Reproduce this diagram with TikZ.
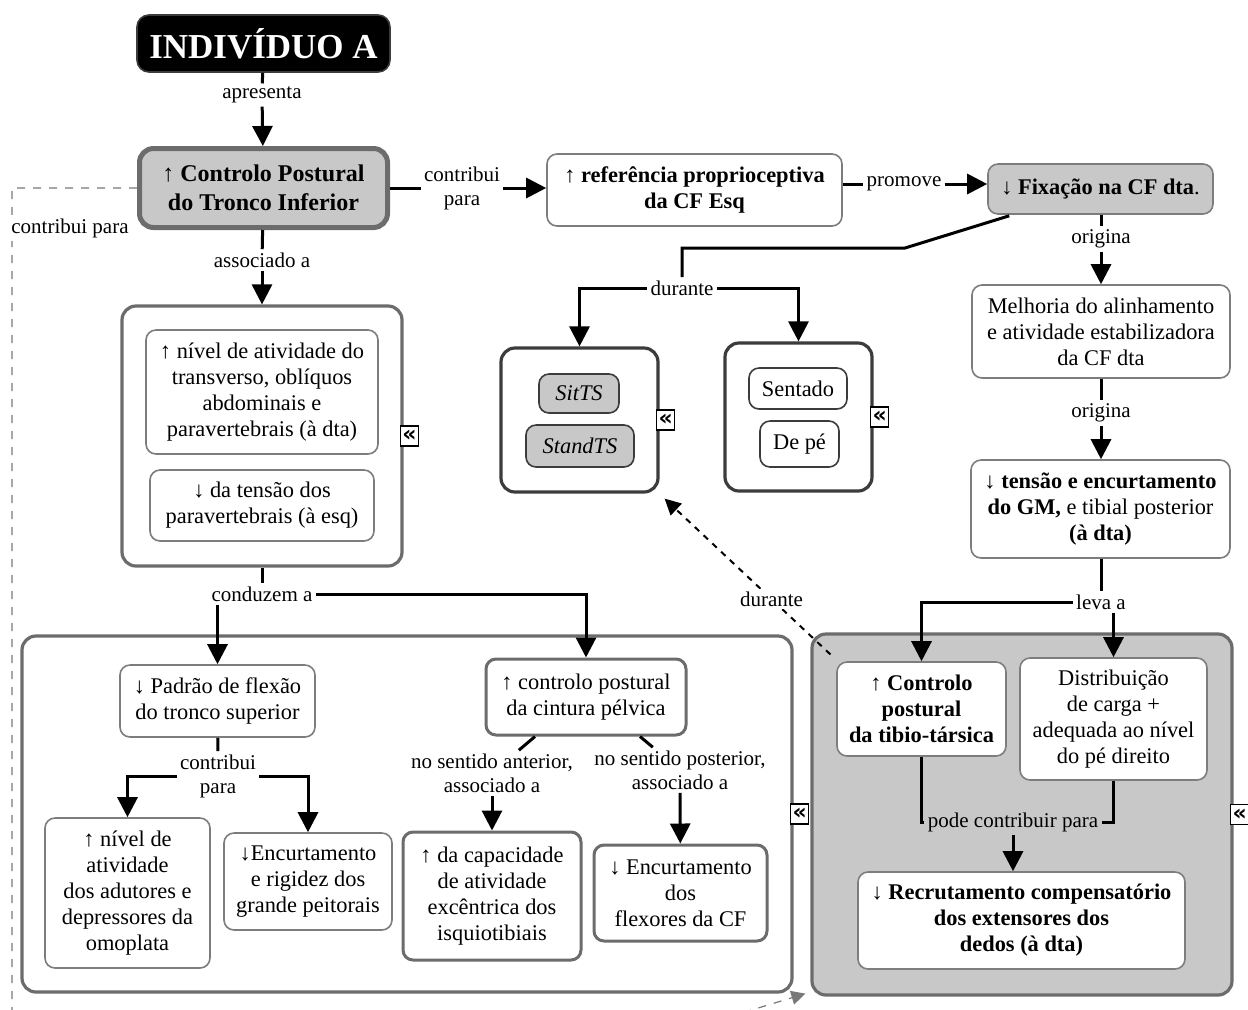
\documentclass[tikz,border=0pt]{standalone}
\usepackage{fontspec}
\setmainfont{Liberation Serif}
\newfontfamily\markfont{DejaVu Sans}
\usetikzlibrary{arrows.meta,calc}
\definecolor{boxgray}{RGB}{200,200,200}
\definecolor{edgegray}{RGB}{125,125,125}
\definecolor{framegray}{RGB}{108,108,108}
\definecolor{darkedge}{RGB}{60,60,60}
\definecolor{dashgray}{RGB}{120,120,120}
\tikzset{
  txt/.style={font=\fontsize{11.2}{13}\selectfont, align=center, inner sep=2pt},
  cbox/.style={txt, draw=edgegray, line width=0.8pt, rounded corners=5pt, fill=white},
  thickbox/.style={cbox, draw=framegray, line width=1.5pt},
  graybox/.style={cbox, fill=boxgray},
  container/.style={draw=framegray, line width=1.6pt, rounded corners=7pt, fill=white},
  darkcontainer/.style={draw=darkedge, line width=1.6pt, rounded corners=7pt, fill=white},
  lbl/.style={font=\fontsize{10.5}{12}\selectfont, align=center, fill=white, inner sep=1.5pt},
  conn/.style={line width=1.5pt},
  arr/.style={conn, -{Triangle[length=10pt,width=10pt]}},
  dasharr/.style={line width=1pt, dash pattern=on 3pt off 3pt, -{Triangle[length=8pt,width=8pt]}},
  graydash/.style={draw=dashgray, line width=0.6pt, dash pattern=on 4pt off 4pt, -{Triangle[length=7pt,width=7pt]}, dashgray},
  expander/.style={draw, fill=white, line width=0.6pt, inner sep=0pt, minimum width=9pt, minimum height=10pt, font=\markfont\bfseries\fontsize{11}{11}\selectfont},
}
\begin{document}
\begin{tikzpicture}[x=0.5pt, y=-0.5pt]
\fill[white] (0,0) rectangle (1248,1009);
\useasboundingbox (0,0) rectangle (1248,1009);

% containers
\node[container, fill=boxgray, minimum width=210pt, minimum height=180.5pt] (grayc) at (1022,814.5) {};
\node[container, minimum width=140pt, minimum height=130pt] (cont1) at (262,436) {};
\node[container, minimum width=385pt, minimum height=178pt] (bl) at (407,814) {};
\node[darkcontainer, minimum width=78.5pt, minimum height=72pt] (sitbox) at (579.5,420) {};
\node[darkcontainer, minimum width=73.5pt, minimum height=74pt] (sentbox) at (798.5,417) {};

% expand markers on the container edges
\node[expander] (mk1) at ($(cont1.east)+(6,0)$) {«};
\node[expander] (mk2) at ($(sitbox.east)+(6,0)$) {«};
\node[expander] (mk3) at ($(sentbox.east)+(6,0)$) {«};
\node[expander] (mk4) at ($(bl.east)+(6,0)$) {«};
\node[expander] (mk5) at ($(grayc.east)+(6,0)$) {«};

% top row
\node[cbox, fill=black, draw=darkedge, text=white, rounded corners=6pt,
      font=\bfseries\fontsize{17.5}{20}\selectfont,
      minimum width=126.5pt, minimum height=28.5pt] (ind) at (263.5,43.5) {INDIVÍDUO A};
\node[cbox, fill=boxgray, draw=framegray, line width=2.5pt, rounded corners=7pt,
      font=\bfseries\fontsize{12}{14.5}\selectfont,
      minimum width=124pt, minimum height=39.5pt] (ctp) at (263.5,188) {↑ Controlo Postural\\do Tronco Inferior};
\node[cbox, font=\bfseries\fontsize{11.2}{13}\selectfont,
      minimum width=147.5pt, minimum height=36pt] (ref) at (694.5,190) {↑ referência proprioceptiva\\da CF Esq};
\node[graybox, font=\bfseries\fontsize{11.2}{13}\selectfont,
      minimum width=112.5pt, minimum height=25pt] (fix) at (1100.5,189) {↓ Fixação na CF dta\textmd{.}};

% right column
\node[cbox, minimum width=129pt, minimum height=46.5pt] (mel) at (1101,331.5) {Melhoria do alinhamento\\e atividade estabilizadora\\da CF dta};
\node[cbox, minimum width=129.5pt, minimum height=49pt] (ten) at (1100.5,509) {\textbf{↓ tensão e encurtamento}\\\textbf{do GM,} e tibial posterior\\\textbf{(à dta)}};
\node[cbox, font=\bfseries\fontsize{11.2}{13}\selectfont,
      minimum width=84.5pt, minimum height=47pt] (ctltib) at (921.5,709) {↑ Controlo\\postural\\da tibio-társica};
\node[cbox, minimum width=93.5pt, minimum height=61pt] (dist) at (1113.5,719) {Distribuição\\de carga +\\adequada ao nível\\do pé direito};
\node[cbox, font=\bfseries\fontsize{11.2}{13}\selectfont,
      minimum width=163.5pt, minimum height=48.5pt] (recr) at (1021.5,920.5) {↓ Recrutamento compensatório\\dos extensores dos\\dedos (à dta)};

% left middle group
\node[cbox, minimum width=116pt, minimum height=62pt] (ativa) at (262,392) {↑ nível de atividade do\\transverso, oblíquos\\abdominais e\\paravertebrais (à dta)};
\node[cbox, minimum width=112pt, minimum height=35.5pt] (tensb) at (262,505.5) {↓ da tensão dos\\paravertebrais (à esq)};

% task groups
\node[graybox, draw=darkedge, font=\itshape\fontsize{11.2}{13}\selectfont,
      minimum width=40pt, minimum height=19.5pt] (sit) at (579,393.5) {SitTS};
\node[graybox, draw=darkedge, font=\itshape\fontsize{11.2}{13}\selectfont,
      minimum width=54pt, minimum height=21pt] (stand) at (580,446) {StandTS};
\node[cbox, draw=darkedge, minimum width=49pt, minimum height=20.5pt] (sentado) at (798,388.5) {Sentado};
\node[cbox, draw=darkedge, minimum width=39.5pt, minimum height=23pt] (depe) at (799.5,444) {De pé};

% bottom-left group
\node[cbox, minimum width=97.5pt, minimum height=36pt] (padrao) at (217.5,701) {↓ Padrão de flexão\\do tronco superior};
\node[thickbox, minimum width=100pt, minimum height=38pt] (cintura) at (586,697) {↑ controlo postural\\da cintura pélvica};
\node[cbox, minimum width=82.5pt, minimum height=75pt] (nivel2) at (127.5,893) {↑ nível de\\atividade\\dos adutores e\\depressores da\\omoplata};
\node[cbox, minimum width=84pt, minimum height=48.5pt] (encrig) at (308,881.5) {↓Encurtamento\\e rigidez dos\\grande peitorais};
\node[thickbox, minimum width=89pt, minimum height=64pt] (capac) at (492,896) {↑ da capacidade\\de atividade\\excêntrica dos\\isquiotibiais};
\node[thickbox, minimum width=86.5pt, minimum height=48pt] (encflex) at (680.5,893) {↓ Encurtamento\\dos\\flexores da CF};

% link labels
\node[lbl] (apres) at (262,95) {apresenta};
\node[lbl] (assoc) at (262,260) {associado a};
\node[lbl] (contr1) at (462,188) {contribui\\para};
\node[lbl] (prom) at (904,184) {promove};
\node[lbl] (orig1) at (1101,239) {origina};
\node[lbl] (orig2) at (1101,413) {origina};
\node[lbl] (leva) at (1101,602) {leva a};
\node[lbl] (dur1) at (682,288) {durante};
\node[lbl] (cond) at (262,594) {conduzem a};
\node[lbl] (contr2) at (218,776) {contribui\\para};
\node[lbl] (ant) at (492,773) {no sentido anterior,\\associado a};
\node[lbl] (post) at (680,770) {no sentido posterior,\\associado a};
\node[lbl, fill=boxgray] (pode) at (1013,822) {pode contribuir para};

% connectors
\draw[conn] (ind) -- (apres);
\draw[arr] (apres) -- (ctp);
\draw[conn] (ctp) -- (assoc);
\draw[arr] (assoc) -- (cont1);
\draw[conn] (ctp.east) -- (contr1.west);
\draw[arr] (contr1.east) -- (contr1.east -| ref.west);
\draw[conn] (ref.east |- prom) -- (prom.west);
\draw[arr] (prom.east) -- (prom -| fix.west);
\draw[conn] (orig1 |- fix.south) -- (orig1);
\draw[arr] (orig1) -- (orig1 |- mel.north);
\draw[conn] (orig2 |- mel.south) -- (orig2);
\draw[arr] (orig2) -- (orig2 |- ten.north);
\draw[conn] (leva |- ten.south) -- (leva);
\draw[arr] (leva.west) -| (ctltib);
\draw[arr] (leva.south -| dist) -- (dist);
\draw[conn] ($(fix.south west)+(22,1)$) -- (905,248) -| (dur1);
\draw[arr] (dur1.west) -| (sitbox);
\draw[arr] (dur1.east) -| (sentbox);
\draw[conn] (cont1) -- (cond);
\draw[arr] (cond.south -| padrao) -- (padrao);
\draw[arr] (cond.east) -| (cintura);
\draw[conn] (padrao) -- (contr2);
\draw[arr] (contr2.west) -| (nivel2);
\draw[arr] (contr2.east) -| (encrig);
\draw[conn] ($(cintura.south)+(-51,0)$) -- (ant);
\draw[arr] (ant) -- (capac);
\draw[conn] ($(cintura.south)+(54,0)$) -- (post);
\draw[arr] (post) -- (encflex);
\draw[conn] (ctltib) |- (pode.west);
\draw[conn] (dist) |- (pode.east);
\draw[arr] (pode.south) -- (pode.south |- recr.north);

% dashed links
\draw[dasharr] ($(grayc.north west)+(20,22)$) -- node[lbl, pos=0.355] (dur2) {durante} ($(sitbox.south east)+(5,5)$);
\draw[graydash] (ctp.west) -- (12,188) -- (12,1012) -- (745,1012) -- ($(grayc.south west)+(-5,-3)$);
\node[lbl] (contr3) at (70,228) {contribui para};
\end{tikzpicture}
\end{document}
